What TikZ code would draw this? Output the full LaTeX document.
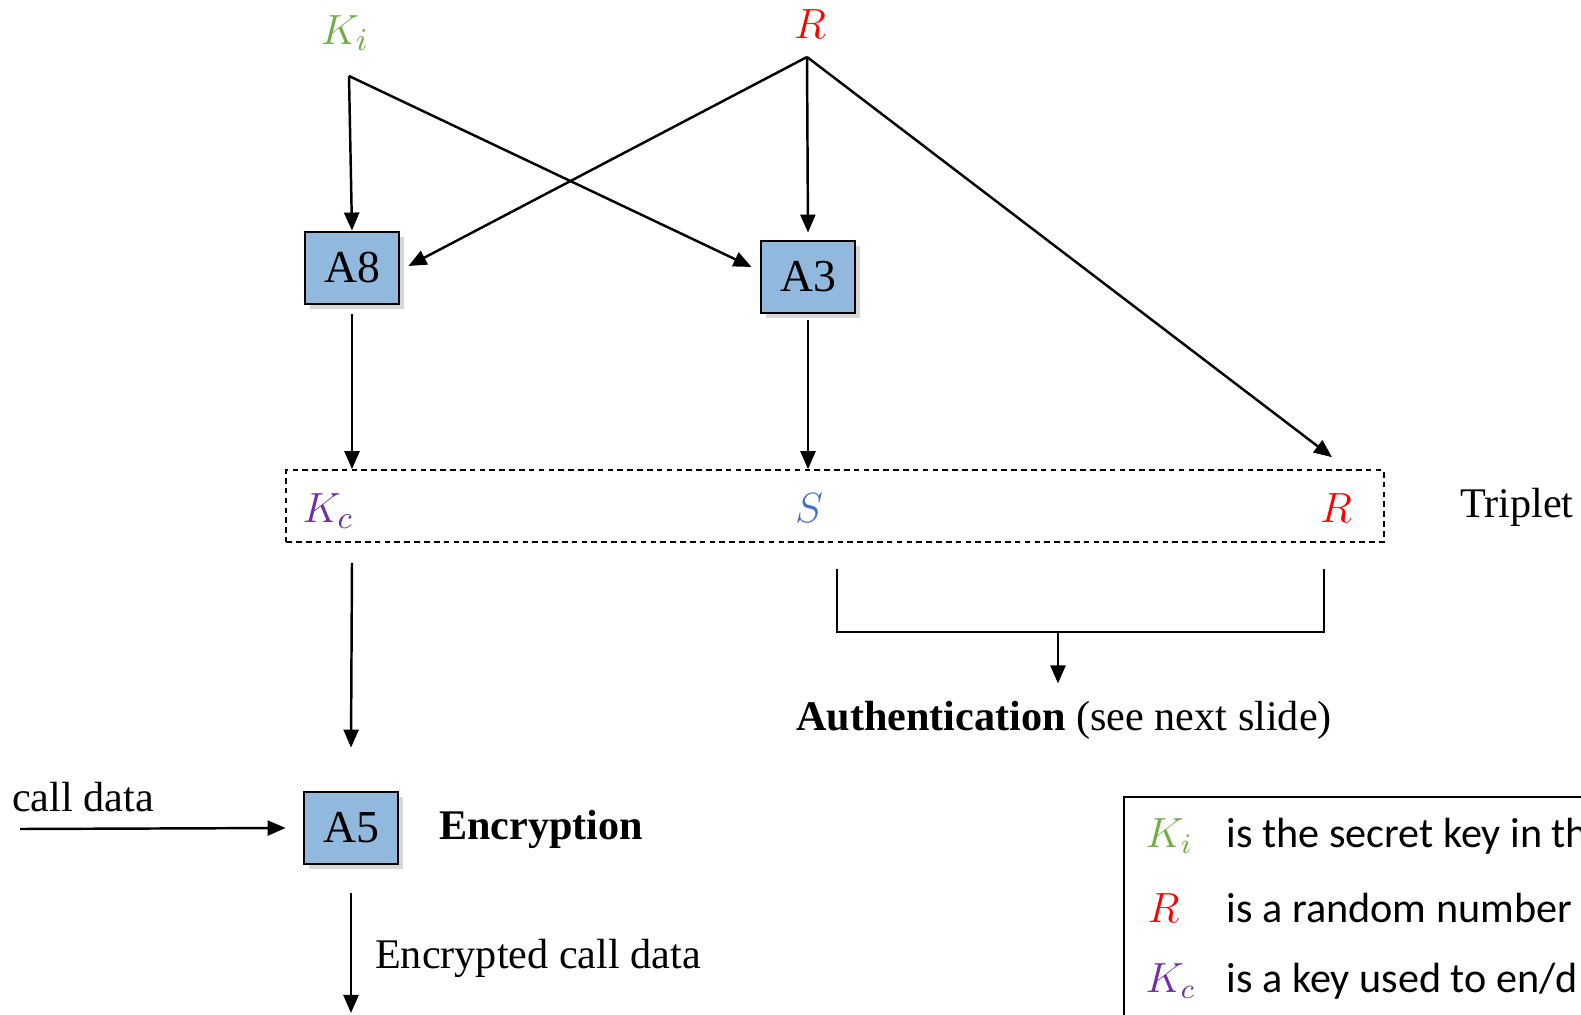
\documentclass[tikz,border=0pt]{standalone}
\usepackage{fontspec}
\setmainfont{Liberation Serif}
\newfontfamily\legendfont{Carlito}
\usetikzlibrary{arrows.meta,calc,shadows}
\definecolor{kigreen}{HTML}{70AD47}
\definecolor{kcpurple}{HTML}{7030A0}
\definecolor{sblue}{HTML}{4472C4}
\definecolor{boxblue}{HTML}{91B8DD}
\tikzset{
  algo/.style={draw=black,fill=boxblue,line width=.8pt,minimum width=.94cm,minimum height=.72cm,inner sep=0pt,font=\fontsize{13}{15}\selectfont,drop shadow={shadow xshift=.05cm,shadow yshift=-.05cm,fill=black!35,opacity=.45}},
  flow/.style={-{Triangle[length=1.8mm,width=1.5mm]},line width=.7pt},
  plain/.style={font=\fontsize{12}{14}\selectfont},
  sym/.style={font=\fontsize{12.5}{14}\selectfont},
  triple/.style={draw,dash pattern=on 1.6pt off 1.2pt,line width=.6pt,minimum width=10.97cm,minimum height=.715cm},
  legend/.style={font=\legendfont\fontsize{12}{14}\selectfont,inner sep=0pt,anchor=base west},
}

\begin{document}
\begin{tikzpicture}[x=0.01cm,y=-0.01cm]
	\useasboundingbox (0,0) rectangle (1581,1015);
	\clip (0,0) rectangle (1581,1015);
	\node[sym,text=kigreen] (ki) at (345,33) {$K_i$};
	\node[sym,text=red] (r) at (810,24) {$R$};
	\coordinate (kitop) at (349,76);
	\coordinate (rtop) at (807,57);
	\node[algo] (a8) at (352,268) {A8};
	\node[algo] (a3) at (808,277) {A3};
	\node[algo] (a5) at (351,828) {A5};
	\node[triple] (trip) at (835,506) {};
	\node[sym,text=kcpurple] (kc) at (328,511) {$K_c$};
	\node[sym,text=sblue] (s) at (809,508) {$S$};
	\node[sym,text=red] (rr) at (1336,508) {$R$};
	\node[plain] (tl) at (1517,507) {Triplet};
	\draw[flow] (kitop) -- (a8.north);
	\draw[flow] (kitop) -- ($(a3.west)+(-8,-10)$);
	\draw[flow] (rtop) -- ($(a8.east)+(8,-2)$);
	\draw[flow] (rtop) -- ($(a3.north)+(0,-7)$);
	\draw[flow] (rtop) -- ($(rr |- trip.north)+(-4,-12)$);
	\draw[flow] ($(a8.south)+(0,9)$) -- (a8 |- trip.north);
	\draw[flow] ($(a3.south)+(0,6)$) -- (a3 |- trip.north);
	\draw[flow] ($(a8 |- trip.south)+(0,20)$) -- ($(a5.north)+(0,-43)$);
	\node[plain] (cd) at (83,797) {call data};
	\coordinate (cdin) at (20,829);
	\draw[flow] (cdin) -- ($(a5.west)+(-17,0)$);
	\node[plain,font=\fontsize{12}{14}\selectfont\bfseries] (enc) at (541,829) {Encryption};
	\coordinate (out) at (351,1013);
	\draw[flow] ($(a5.south)+(0,28)$) -- (out);
	\node[plain] (ecd) at (538,958) {Encrypted call data};
	\coordinate (bl) at (837,569);
	\coordinate (br) at (1324,569);
	\draw[line width=.7pt] (bl) -- ++(0,63) -| (br);
	\node[plain] (auth) at (1064,720) {\textbf{Authentication} (see next slide)};
	\coordinate (bmid) at (1058,632);
	\draw[flow] (bmid) -- ($(bmid |- auth.north)+(0,-5)$);
	\draw[line width=.8pt] (1124,797) rectangle (1700,1100);
	\node[legend,text=kigreen] (lki) at (1145,847) {$K_i$};
	\node[legend] (tki) at (1226,847) {is the secret key in th};
	\node[legend,text=red] (lr) at (1147,922) {$R$};
	\node[legend] (tr) at (1226,922) {is a random number};
	\node[legend,text=kcpurple] (lkc) at (1145,992) {$K_c$};
	\node[legend] (tkc) at (1226,992) {is a key used to en/d};
\end{tikzpicture}
\end{document}
